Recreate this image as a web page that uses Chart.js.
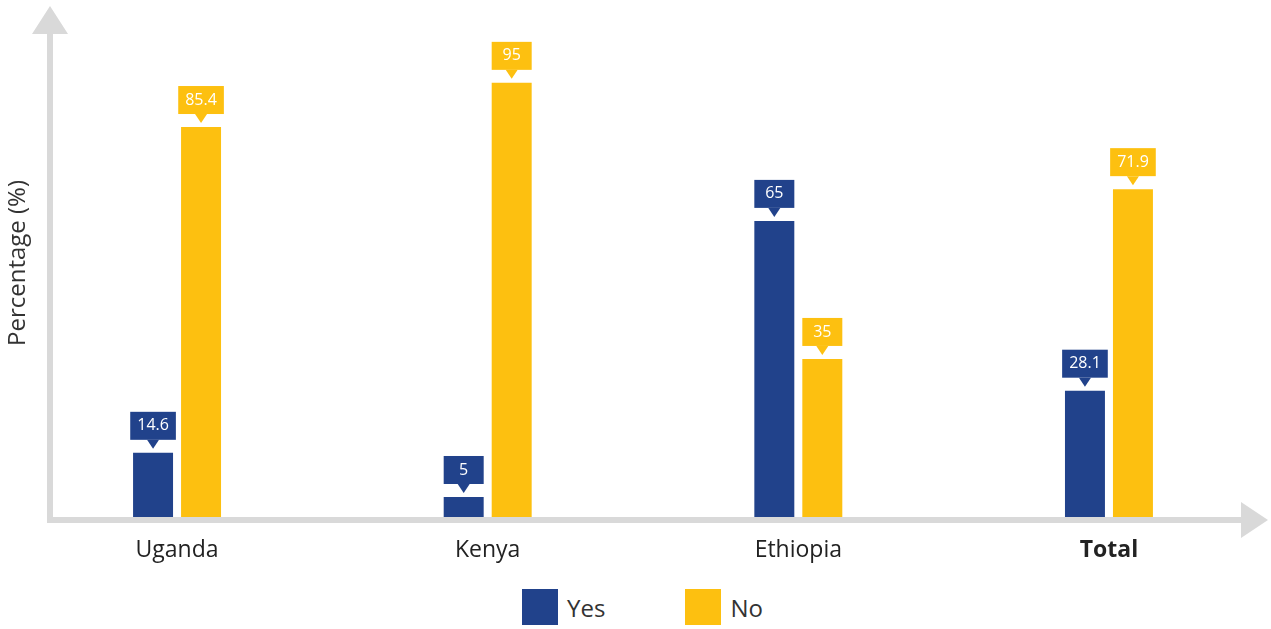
<!DOCTYPE html>
<html>
<head>
<meta charset="utf-8">
<script src="https://cdn.jsdelivr.net/npm/chart.js@4.4.0/dist/chart.umd.min.js"></script>
<style>
  body { margin: 0; background: #fff; font-family: "Open Sans", sans-serif; }
  #wrap { width: 1271px; height: 585px; }
  #legend { display: flex; justify-content: center; align-items: center; gap: 80px; height: 44px; padding-left: 14px; }
  .item { display: flex; align-items: center; font-size: 24px; color: #333; }
  .swatch { width: 36px; height: 36px; margin-right: 9px; }
</style>
</head>
<body>
<div id="wrap"><canvas id="chart" width="1271" height="585"></canvas></div>
<div id="legend"></div>
<script>
const categories = ['Uganda', 'Kenya', 'Ethiopia', 'Total'];
const yesValues = [14.6, 5, 65, 28.1];
const noValues = [85.4, 95, 35, 71.9];
const seriesNames = ['Yes', 'No'];

const BLUE = '#21428b';
const YELLOW = '#fdc010';
const AXIS_GRAY = '#d9d9d9';
const FONT = '"Open Sans", sans-serif';

// gray axes with arrow heads
const arrowAxes = {
  id: 'arrowAxes',
  afterDatasetsDraw(chart) {
    const { ctx, chartArea: a } = chart;
    ctx.save();
    ctx.fillStyle = AXIS_GRAY;
    ctx.fillRect(a.left - 3, a.top + 28, 6, a.bottom - a.top - 25);
    ctx.fillRect(a.left - 3, a.bottom - 3, a.right - a.left - 24, 6);
    ctx.beginPath();
    ctx.moveTo(a.left, a.top);
    ctx.lineTo(a.left + 18, a.top + 28);
    ctx.lineTo(a.left - 18, a.top + 28);
    ctx.closePath();
    ctx.moveTo(a.right, a.bottom);
    ctx.lineTo(a.right - 27, a.bottom - 18);
    ctx.lineTo(a.right - 27, a.bottom + 18);
    ctx.closePath();
    ctx.fill();
    ctx.restore();
  }
};

// value boxes with a little pointer above each bar
const callouts = {
  id: 'callouts',
  afterDatasetsDraw(chart) {
    const { ctx } = chart;
    ctx.save();
    ctx.font = '16px ' + FONT;
    ctx.textAlign = 'center';
    ctx.textBaseline = 'middle';
    chart.data.datasets.forEach((ds, di) => {
      chart.getDatasetMeta(di).data.forEach((bar, i) => {
        const text = String(ds.data[i].y);
        const w = Math.max(40, ctx.measureText(text).width + 14);
        const bottom = bar.y - 13, top = bottom - 28;
        ctx.fillStyle = ds.backgroundColor;
        ctx.fillRect(bar.x - w / 2, top, w, 28);
        ctx.beginPath();
        ctx.moveTo(bar.x - 6, bottom);
        ctx.lineTo(bar.x + 6, bottom);
        ctx.lineTo(bar.x, bar.y - 4);
        ctx.closePath();
        ctx.fill();
        ctx.fillStyle = '#fff';
        ctx.fillText(text, bar.x, top + 14);
      });
    });
    ctx.restore();
  }
};

const chart = new Chart(document.getElementById('chart'), {
  type: 'bar',
  data: {
    datasets: [
      { label: seriesNames[0], data: yesValues.map((v, i) => ({ x: i, y: v })), backgroundColor: BLUE },
      { label: seriesNames[1], data: noValues.map((v, i) => ({ x: i, y: v })), backgroundColor: YELLOW }
    ]
  },
  options: {
    responsive: false,
    animation: false,
    datasets: { bar: { categoryPercentage: 0.309, barPercentage: 0.833 } },
    layout: { padding: { top: 6, right: 3, left: 0, bottom: 0 } },
    plugins: { legend: { display: false }, tooltip: { enabled: false } },
    scales: {
      x: {
        type: 'linear',
        offset: false,
        min: -0.409,
        max: 3.512,
        grid: { display: false, drawTicks: false, offset: false },
        border: { display: false },
        ticks: {
          stepSize: 1,
          includeBounds: false,
          autoSkip: false,
          maxRotation: 0,
          padding: 17,
          color: '#222',
          callback: v => categories[v] ?? '',
          font: c => ({ family: FONT, size: 23, weight: c.tick && categories[c.tick.value] === 'Total' ? 'bold' : 'normal' })
        },
        afterFit: s => { s.height = 65; }
      },
      y: {
        min: 0,
        max: 111.7,
        grid: { display: false, drawTicks: false },
        border: { display: false },
        ticks: { display: false },
        title: { display: true, text: 'Percentage (%)', color: '#333', font: { family: FONT, size: 24 }, padding: { top: 4, bottom: 0 } },
        afterFit: s => { s.width = 50; }
      }
    }
  },
  plugins: [arrowAxes, callouts]
});

// html legend from the datasets
document.getElementById('legend').innerHTML = chart.data.datasets.map(ds =>
  `<div class="item"><span class="swatch" style="background:${ds.backgroundColor}"></span>${ds.label}</div>`
).join('');
</script>
</body>
</html>
